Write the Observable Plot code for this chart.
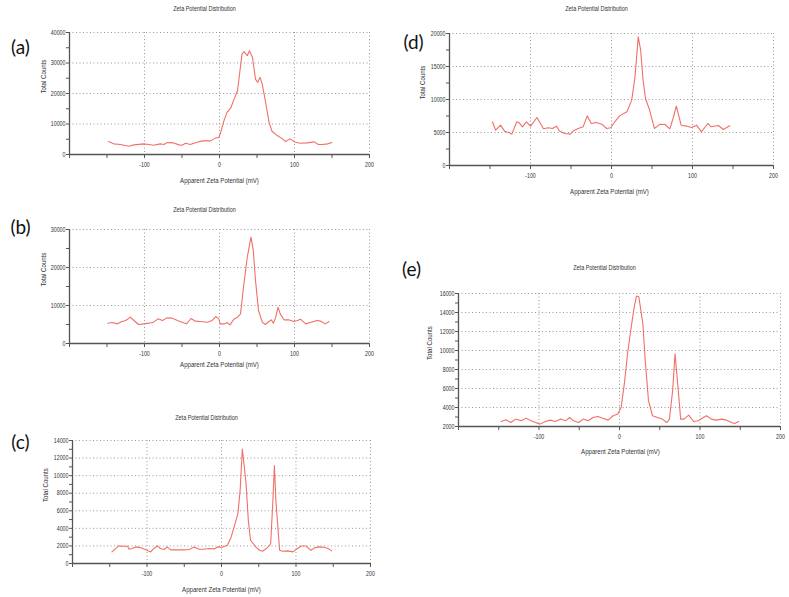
<!DOCTYPE html>
<html><head><meta charset="utf-8">
<script src="https://cdn.jsdelivr.net/npm/d3@7"></script>
<script src="https://cdn.jsdelivr.net/npm/@observablehq/plot@0.6"></script>
<style>
body{margin:0;background:#fff;}
#wrap{position:relative;width:789px;height:597px;overflow:hidden;background:#fff;}
#wrap svg{position:absolute;overflow:visible;}
</style></head><body><div id="wrap"></div>
<script>
// ---- data ----
const zetaA = [-148,-141,-132,-121,-114,-101,-94,-88,-79,-74,-70,-61,-54,-50,-45,-39,-30,-23,-12,-5,-1,1,6,10,15,19,24,27,30,33,37,40,44,48,51,54,57,61,66,70,77,84,88,94,101,108,117,126,132,137,144,150];
const countsA = [4250,3490,3270,2725,3160,3490,3270,3050,3490,3270,3900,3800,3160,3050,3700,3270,4030,4470,4470,5450,5560,6760,11100,13800,15260,17900,20900,26900,32900,33700,32400,34000,31800,24700,23650,25300,23100,17700,10600,7630,6200,5120,4250,5120,4030,3700,3820,4140,3270,3270,3490,3920];

const zetaB = [-149,-143,-136,-130,-125,-119,-114,-108,-101,-94,-88,-82,-76,-70,-63,-56,-50,-44,-38,-32,-25,-16,-10,-5,-1,1,7,10,14,19,24,28,32,37,42,45,48,52,57,61,66,69,72,75,78,81,86,92,99,104,108,115,121,130,135,141,146];
const countsB = [5350,5530,5170,5790,6050,6930,6050,5000,5170,5350,5610,6490,6050,6750,6670,6050,5610,5170,6580,5880,5790,5610,6050,7100,6490,5170,5170,5530,4910,6400,6930,7800,14800,22700,28000,24500,16600,8680,5610,5000,5790,6230,5350,6930,9560,7800,6230,6230,5790,6050,6400,5170,5530,6050,5880,5170,5790];

const zetaC = [-147,-142,-138,-131,-126,-124,-120,-115,-109,-100,-95,-91,-86,-82,-77,-73,-68,-59,-50,-43,-37,-30,-23,-17,-10,-5,1,8,13,17,22,25,28,33,36,39,46,51,55,60,64,66,69,71,73,78,82,89,96,102,107,113,120,125,131,138,143,148];
const countsC = [1320,1700,2000,1970,1970,1630,1700,1890,1810,1510,1320,1700,2000,1700,1590,1890,1550,1550,1550,1590,1890,1630,1630,1700,1660,1890,1850,2080,3020,4160,5670,8320,13040,9070,4910,2650,1890,1510,1400,1700,2000,2270,7180,11150,7180,1510,1400,1440,1320,1700,2000,2000,1510,1780,1890,1850,1700,1440];

const zetaD = [-147,-143,-137,-132,-126,-123,-117,-114,-110,-105,-100,-92,-84,-78,-73,-68,-64,-58,-51,-47,-41,-35,-30,-25,-19,-12,-6,-1,4,10,19,25,29,33,36,39,42,47,53,60,66,72,76,80,86,93,99,105,111,119,123,132,138,146];
const countsD = [6620,5350,6110,5200,4950,4750,6620,6460,5860,6620,5960,7270,5560,5710,5610,5960,5200,4850,4750,5250,5610,5860,7520,6360,6510,6260,5610,5710,6620,7520,8130,9900,13430,19490,17470,12930,10150,8380,5610,6260,6210,5560,7120,8990,6110,5960,5760,6110,5100,6360,5860,6060,5450,6010];

const zetaE = [-147,-141,-135,-129,-122,-116,-110,-104,-99,-92,-86,-80,-73,-67,-62,-57,-51,-45,-39,-33,-27,-20,-14,-8,-2,2,6,10,14,18,21,24,29,32,36,41,47,53,59,62,66,69,73,76,80,86,92,98,104,108,114,120,127,133,139,143,148];
const countsE = [2530,2710,2420,2780,2600,2880,2600,2420,2250,2530,2670,2530,2780,2600,2950,2600,2420,2780,2600,2950,3060,2850,2670,3130,3310,4010,6480,9660,12130,14430,15730,15660,12840,8950,4720,3130,2950,2780,2420,2780,5780,9660,5780,2780,2780,3200,2530,2600,2950,3130,2780,2670,2780,2670,2420,2320,2530];

// tick values
const xMajor = [-100, 0, 100, 200];
const xMinor = [-200, -150, -50, 50, 150];
const yMajorA = [0,10000,20000,30000,40000], yMinorA = [5000,15000,25000,35000];
const yMajorB = [0,10000,20000,30000], yMinorB = [5000,15000,25000];
const yMajorC = [0,2000,4000,6000,8000,10000,12000,14000], yMinorC = [1000,3000,5000,7000,9000,11000,13000];
const yMajorD = [0,5000,10000,15000,20000], yMinorD = [2500,7500,12500,17500];
const yMajorE = [2000,4000,6000,8000,10000,12000,14000,16000], yMinorE = [3000,5000,7000,9000,11000,13000,15000];

const titleText = "Zeta Potential Distribution";
const xLabel = "Apparent Zeta Potential (mV)";
const yLabel = "Total Counts";

// ---- layout ----
const panels = [
  {letter:"(a)", x:zetaA, y:countsA, ymaj:yMajorA, ymin:yMinorA, area:[69,32,369,154], let:[20,40], tdy:-26, xdx:0, xdy:28, ydx:-26},
  {letter:"(b)", x:zetaB, y:countsB, ymaj:yMajorB, ymin:yMinorB, area:[69,229,369,343], let:[20,220], tdy:-22, xdx:0, xdy:23, ydx:-26},
  {letter:"(c)", x:zetaC, y:countsC, ymaj:yMajorC, ymin:yMinorC, area:[72,440,370,563], let:[20,435], tdy:-25, xdx:0, xdy:28, ydx:-27},
  {letter:"(d)", x:zetaD, y:countsD, ymaj:yMajorD, ymin:yMinorD, area:[449,33,773,165], let:[413,35], tdy:-27, xdx:-2, xdy:28, ydx:-27},
  {letter:"(e)", x:zetaE, y:countsE, ymaj:yMajorE, ymin:yMinorE, area:[458,293,780,426], let:[411,262], tdy:-28, xdx:1, xdy:27, ydx:-29}
];

const FONT = "'Liberation Sans',Arial,sans-serif";
const LINE = "#f07068", AXIS = "#555", GRID = "#999", TXT = "#333";
const SQUEEZE = 0.78; // reference uses a condensed face
const mL = 60, mR = 14, mT = 34, mB = 40;
const wrap = document.getElementById("wrap");

for (const p of panels) {
  const [x0, y0, x1, y1] = p.area;
  const data = p.x.map((v, i) => ({zeta: v, counts: p.y[i]}));
  const yLo = p.ymaj[0], yHi = p.ymaj[p.ymaj.length - 1];
  const chart = Plot.plot({
    width: (x1 - x0) + mL + mR,
    height: (y1 - y0) + mT + mB,
    marginLeft: mL, marginRight: mR, marginTop: mT, marginBottom: mB,
    style: {fontFamily: FONT, color: TXT, background: "transparent", overflow: "visible"},
    x: {domain: [-200, 200]},
    y: {domain: [yLo, yHi]},
    marks: [
      Plot.gridY(p.ymaj.slice(1), {stroke: GRID, strokeOpacity: 1, strokeDasharray: "1,2.5"}),
      Plot.gridX(xMajor, {stroke: GRID, strokeOpacity: 1, strokeDasharray: "1,2.5"}),
      Plot.ruleY([yLo], {stroke: AXIS, strokeWidth: 1.3}),
      Plot.ruleX([-200], {stroke: AXIS, strokeWidth: 1.3}),
      Plot.axisY(p.ymaj, {tickSize: 3, tickPadding: 1, fontSize: 6.8, stroke: AXIS, tickFormat: d => String(d), label: null}),
      Plot.axisY(p.ymin, {tickSize: 3, stroke: AXIS, tickFormat: () => "", label: null}),
      Plot.axisX(xMajor, {tickSize: 4, tickPadding: 4, fontSize: 6.8, stroke: AXIS, tickFormat: d => String(d), label: null}),
      Plot.axisX(xMinor, {tickSize: 4, stroke: AXIS, tickFormat: () => "", label: null}),
      Plot.line(data, {x: "zeta", y: "counts", stroke: LINE, strokeWidth: 1.1}),
      Plot.text([titleText], {frameAnchor: "top", dx: -15, dy: p.tdy, fontSize: 7, fill: TXT}),
      Plot.text([xLabel], {frameAnchor: "bottom", dx: p.xdx, dy: p.xdy, fontSize: 7.8, fill: TXT}),
      Plot.text([yLabel], {frameAnchor: "left", dx: p.ydx, rotate: -90, fontSize: 7.8, fill: TXT}),
      Plot.text([p.letter], {frameAnchor: "top-left", textAnchor: "middle", dx: p.let[0] - x0, dy: p.let[1] - y0, fontSize: 19, fill: "#111", fontFamily: "Lato, 'Open Sans', sans-serif"})
    ]
  });
  chart.style.left = (x0 - mL) + "px";
  chart.style.top = (y0 - mT) + "px";
  wrap.appendChild(chart);
  // condense the small texts like the instrument software's narrow font
  chart.querySelectorAll("text").forEach(t => {
    const s = t.textContent;
    if (!s || s.startsWith("(")) return;
    const len = t.getComputedTextLength();
    if (len > 0) {
      t.setAttribute("textLength", (len * SQUEEZE).toFixed(2));
      t.setAttribute("lengthAdjust", "spacingAndGlyphs");
    }
  });
}
</script></body></html>
